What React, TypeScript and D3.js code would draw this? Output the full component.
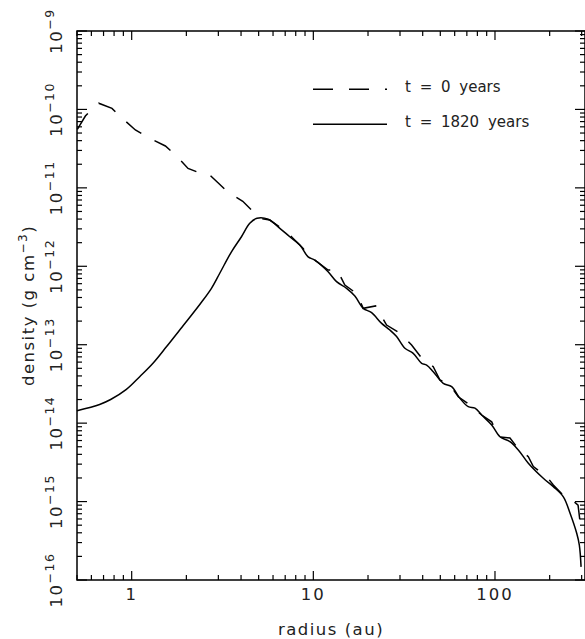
import React from 'react';
import * as d3 from 'd3';

// radius (au) / density (g cm^-3)
const radiusT0 = [
  0.502, 0.556, 0.639, 0.658, 0.779, 0.896, 1.048, 1.241, 1.533, 1.764, 2.043, 2.471,
  2.691, 2.967, 3.395, 4.089, 4.719, 5.073, 5.76, 6.68, 7.26, 8.79, 9.33, 10.19,
  12.06, 13.52, 14.91, 17.43, 18.81, 22.02, 25.31, 29.97, 34.75, 38.96, 45.72, 49.77,
  56.5, 62.8, 72.8, 84.5, 95.9, 104.3, 120.9, 131.7, 152.6, 162.6, 192.7, 209.5,
  233.9, 264.6, 286.6, 294.0,
];
const densityT0 = [
  5.58e-11, 8.24e-11, 1.14e-10, 1.2e-10, 1.03e-10, 7.55e-11, 5.47e-11, 4.36e-11, 3.42e-11, 2.55e-11, 1.77e-11, 1.49e-11,
  1.46e-11, 1.18e-11, 8.73e-12, 6.74e-12, 4.85e-12, 4.09e-12, 3.89e-12, 3.05e-12, 2.63e-12, 1.69e-12, 1.39e-12, 1.2e-12,
  8.97e-13, 8.97e-13, 5.77e-13, 4.44e-13, 2.91e-13, 3.12e-13, 1.78e-13, 1.4e-13, 9.9e-14, 7.03e-14, 5.25e-14, 3.55e-14,
  3.06e-14, 2.17e-14, 1.7e-14, 1.27e-14, 1.04e-14, 6.71e-15, 6.47e-15, 5.01e-15, 3.73e-15, 2.79e-15, 2.08e-15, 1.63e-15,
  1.25e-15, 1.05e-15, 9.03e-16, 5.5e-16,
];

const radiusT1820 = [
  0.4996, 0.666, 0.766, 0.935, 1.107, 1.31, 1.553, 1.838, 2.37, 2.749, 3.054, 3.542,
  4.021, 4.468, 4.9, 5.64, 6.54, 7.42, 8.43, 9.36, 10.19, 12.06, 13.42, 15.24,
  16.93, 18.81, 20.93, 23.76, 26.39, 28.73, 31.92, 35.47, 39.46, 42.04, 45.72, 51.91,
  57.73, 64.16, 71.27, 77.6, 84.5, 95.9, 106.5, 120.9, 134.4, 152.6, 184.5, 209.5,
  237.9, 259.0, 281.8, 291.3, 297.8,
];
const densityT1820 = [
  1.44e-14, 1.73e-14, 2.0e-14, 2.69e-14, 3.91e-14, 5.8e-14, 9.4e-14, 1.54e-13, 3.26e-13, 5.24e-13, 8.15e-13, 1.53e-12,
  2.38e-12, 3.53e-12, 4.09e-12, 3.97e-12, 3.05e-12, 2.38e-12, 1.87e-12, 1.32e-12, 1.2e-12, 8.53e-13, 6.37e-13, 5.24e-13,
  4.18e-13, 2.91e-13, 2.56e-13, 1.87e-13, 1.54e-13, 1.27e-13, 9.0e-14, 7.77e-14, 5.8e-14, 5.51e-14, 4.53e-14, 3.22e-14,
  2.92e-14, 2.07e-14, 1.62e-14, 1.55e-14, 1.27e-14, 9.47e-15, 6.71e-15, 5.8e-15, 4.55e-15, 3.08e-15, 1.98e-15, 1.55e-15,
  1.15e-15, 7.1e-16, 3.94e-16, 2.79e-16, 1.47e-16,
];

const xTickLabels = ['1', '10', '100'];
const yTickExponents = [-16, -15, -14, -13, -12, -11, -10, -9];
const legendLabels = ['t = 0 years', 't = 1820 years'];

const W = 585;
const H = 639;
const margin = { top: 31, right: 0, bottom: 59, left: 77 };
const font = '"DejaVu Sans", sans-serif';

export default function App() {
  const x = d3.scaleLog().domain([0.5, 313]).range([margin.left, W - margin.right]);
  const y = d3.scaleLog().domain([1e-16, 1e-9]).range([H - margin.bottom, margin.top]);

  const line = d3.line<number>()
    .x(i => x(radiusT0[i]))
    .y(i => y(densityT0[i]));
  const line2 = d3.line<number>()
    .x(i => x(radiusT1820[i]))
    .y(i => y(densityT1820[i]))
    .curve(d3.curveCatmullRom.alpha(0.5));

  const x0 = margin.left, x1 = W - margin.right;
  const y0 = margin.top, y1 = H - margin.bottom;

  const isMajor = (v: number) => Math.abs(Math.log10(v) - Math.round(Math.log10(v))) < 1e-6;
  const xTicks = x.ticks();
  const yTicks = y.ticks();

  return (
    <div style={{ position: 'absolute', left: 0, top: 0 }}>
      <svg width={W} height={H} style={{ display: 'block' }} fontFamily={font}>
        <rect x={0} y={0} width={W} height={H} fill="#fff" />

        {/* ticks on all four sides */}
        <g stroke="#000" strokeWidth={1.2}>
          {xTicks.map((t, i) => {
            const len = isMajor(t) ? 9 : 5;
            return (
              <g key={'x' + i}>
                <line x1={x(t)} x2={x(t)} y1={y1} y2={y1 - len} />
                <line x1={x(t)} x2={x(t)} y1={y0} y2={y0 + len} />
              </g>
            );
          })}
          {yTicks.map((t, i) => {
            const len = isMajor(t) ? 10 : 5;
            return (
              <g key={'y' + i}>
                <line x1={x0} x2={x0 + len} y1={y(t)} y2={y(t)} />
                <line x1={x1} x2={x1 - len} y1={y(t)} y2={y(t)} />
              </g>
            );
          })}
        </g>

        {/* curves */}
        <path
          d={line(d3.range(radiusT0.length)) || ''}
          fill="none"
          stroke="#000"
          strokeWidth={1.5}
          strokeDasharray="19,15"
        />
        <path
          d={line2(d3.range(radiusT1820.length)) || ''}
          fill="none"
          stroke="#000"
          strokeWidth={1.5}
        />

        {/* frame */}
        <rect x={x0} y={y0} width={x1 - x0} height={y1 - y0} fill="none" stroke="#000" strokeWidth={1.5} />

        {/* x tick labels */}
        {xTickLabels.map(l => (
          <text key={l} x={x(+l)} y={600} textAnchor="middle" fontSize={16.5} letterSpacing={2} fill="#222">
            {l}
          </text>
        ))}

        {/* y tick labels */}
        {yTickExponents.map(e => (
          <text
            key={e}
            transform={`translate(62,${y(Math.pow(10, e))}) rotate(-90)`}
            textAnchor="middle"
            fontSize={16.5}
            letterSpacing={1.5}
            fill="#222"
          >
            10<tspan dy={-8} fontSize={12.5}>{'\u2212' + Math.abs(e)}</tspan>
          </text>
        ))}

        {/* axis titles */}
        <text x={(x0 + x1) / 2} y={635} textAnchor="middle" fontSize={16.5} letterSpacing={1.5} fill="#222">
          radius (au)
        </text>
        <text
          transform={`translate(34,${(y0 + y1) / 2}) rotate(-90)`}
          textAnchor="middle"
          fontSize={16.5}
          letterSpacing={1.5}
          fill="#222"
        >
          density (g cm<tspan dy={-7} fontSize={12}>{'\u22123'}</tspan>
          <tspan dy={7}>)</tspan>
        </text>

        {/* legend */}
        <line x1={313} x2={387} y1={89.3} y2={89.3} stroke="#000" strokeWidth={1.5} strokeDasharray="20,16" />
        <line x1={313} x2={387} y1={124.3} y2={124.3} stroke="#000" strokeWidth={1.5} />
        {legendLabels.map((l, i) => (
          <text key={l} x={405} y={92 + i * 34.5} fontSize={15} wordSpacing={4} fill="#222">
            {l}
          </text>
        ))}
      </svg>
    </div>
  );
}
